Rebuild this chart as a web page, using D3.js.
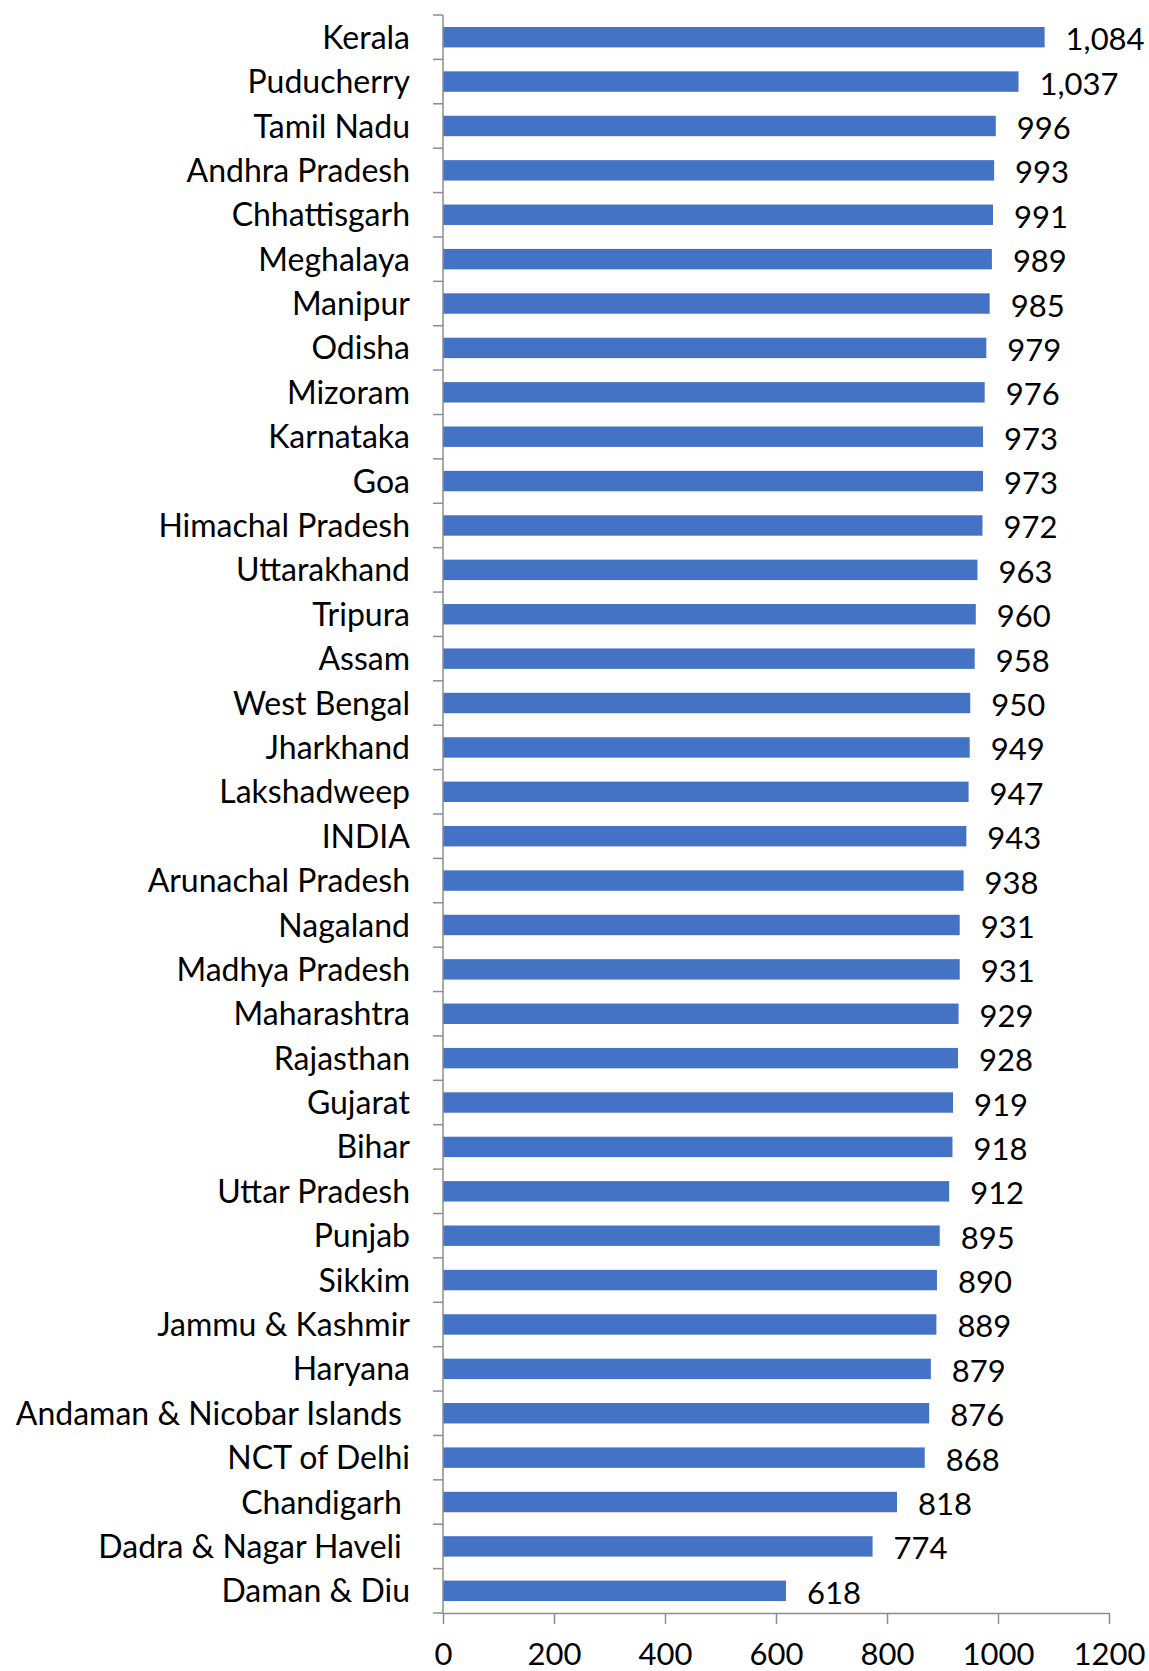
<!DOCTYPE html>
<html>
<head>
<meta charset="utf-8">
<script src="https://cdn.jsdelivr.net/npm/d3@7"></script>
<style>
  body { margin: 0; background: #fff; }
  text { font-family: Lato, "Open Sans", sans-serif; fill: #000; }
</style>
</head>
<body>
<div id="chart"></div>
<script>
// categories top to bottom, trailing spaces kept as in the source sheet
const states = [
    'Kerala', 'Puducherry', 'Tamil Nadu', 'Andhra Pradesh', 'Chhattisgarh', 'Meghalaya',
    'Manipur', 'Odisha', 'Mizoram', 'Karnataka', 'Goa', 'Himachal Pradesh', 'Uttarakhand',
    'Tripura', 'Assam', 'West Bengal', 'Jharkhand', 'Lakshadweep', 'INDIA',
    'Arunachal Pradesh', 'Nagaland', 'Madhya Pradesh', 'Maharashtra', 'Rajasthan',
    'Gujarat', 'Bihar', 'Uttar Pradesh', 'Punjab', 'Sikkim', 'Jammu & Kashmir', 'Haryana',
    'Andaman & Nicobar Islands ', 'NCT of Delhi', 'Chandigarh ', 'Dadra & Nagar Haveli ',
    'Daman & Diu'
];
const sexRatio = [
    1084, 1037, 996, 993, 991, 989, 985, 979, 976, 973, 973, 972, 963, 960, 958, 950, 949,
    947, 943, 938, 931, 931, 929, 928, 919, 918, 912, 895, 890, 889, 879, 876, 868, 818,
    774, 618
];
const xTicks = [0, 200, 400, 600, 800, 1000, 1200];

const width = 1149;
const height = 1671;
const margin = { top: 15, right: 40, bottom: 58, left: 443 };
const chartWidth = 1109 - margin.left;
const chartHeight = height - margin.top - margin.bottom;

const svg = d3.select('#chart').append('svg').attr('width', width).attr('height', height);
const chart = svg.append('g').attr('transform', `translate(${margin.left}, ${margin.top})`);

const xScale = d3.scaleLinear().domain([0, 1200]).range([0, chartWidth]);
const yScale = d3.scaleBand().domain(states).range([0, chartHeight]).paddingInner(0.54).paddingOuter(0.27);

const axisColor = '#8c8c8c';

// bars
chart.selectAll('.bar')
    .data(states)
    .enter()
    .append('rect')
    .attr('class', 'bar')
    .attr('x', 0)
    .attr('y', (s) => yScale(s))
    .attr('width', (s, i) => xScale(sexRatio[i]))
    .attr('height', yScale.bandwidth())
    .attr('fill', '#4472c4');

// value labels
chart.selectAll('.val')
    .data(states)
    .enter()
    .append('text')
    .attr('class', 'val')
    .attr('x', (s, i) => xScale(sexRatio[i]) + 21)
    .attr('y', (s) => yScale(s) + yScale.bandwidth() / 2)
    .attr('dy', '0.42em')
    .attr('font-size', 31)
    .text((s, i) => d3.format(',')(sexRatio[i]));

// category axis, labels only; ticks between categories drawn below
const yAxis = chart.append('g').call(d3.axisLeft(yScale).tickSize(0).tickPadding(33));
yAxis.select('.domain').remove();
yAxis.selectAll('text')
    .attr('font-size', 32)
    .attr('dy', '0.36em')
    .style('white-space', 'pre')
    .style('font-family', 'Lato, "Open Sans", sans-serif');

const step = yScale.step();
const bounds = d3.range(states.length + 1).map((i) => i * step);
chart.append('g')
    .selectAll('line')
    .data(bounds)
    .enter()
    .append('line')
    .attr('x1', -10)
    .attr('x2', 0)
    .attr('y1', (d) => d)
    .attr('y2', (d) => d)
    .attr('stroke', axisColor)
    .attr('stroke-width', 1.5);
chart.append('line')
    .attr('x1', 0).attr('x2', 0)
    .attr('y1', 0).attr('y2', chartHeight)
    .attr('stroke', axisColor)
    .attr('stroke-width', 1.5);

// value axis
const xAxis = chart.append('g')
    .attr('transform', `translate(0, ${chartHeight})`)
    .call(d3.axisBottom(xScale).tickValues(xTicks).tickFormat((d) => d).tickSize(11).tickSizeOuter(0).tickPadding(19));
xAxis.select('.domain').attr('stroke', axisColor).attr('stroke-width', 1.5);
xAxis.selectAll('.tick line').attr('stroke', axisColor).attr('stroke-width', 1.5);
xAxis.selectAll('text')
    .attr('font-size', 31)
    .style('font-family', 'Lato, "Open Sans", sans-serif');
</script>
</body>
</html>
